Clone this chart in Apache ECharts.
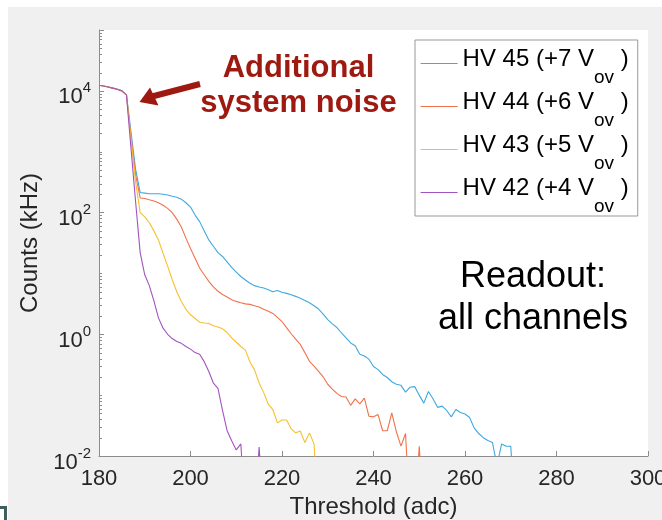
<!DOCTYPE html>
<html><head><meta charset="utf-8">
<script src="https://cdn.jsdelivr.net/npm/echarts@6/dist/echarts.min.js"></script>
<style>html,body{margin:0;padding:0;background:#fff}#c{width:662px;height:520px}</style>
</head><body><div id="c"></div>
<script>
// Threshold (adc) sample points
const thresholds = [180,181,182,183,184,185,186,187,188,189,190,191,192,193,194,195,196,197,198,199,
  200,201,202,203,204,205,206,207,208,209,210,211,212,213,214,215,216,217,218,219,
  220,221,222,223,224,225,226,227,228,229,230,231,232,233,234,235,236,237,238,239,
  240,241,242,243,244,245,246,247,248,249,250,251,252,253,254,255,256,257,258,259,
  260,261,262,263,264,265,266,267,268,269,270,271];

// Counts (kHz)
const hv45 = [12400,12000,11600,11100,10600,10000,8600,2090,513,214,209,204,204,204,200,195,186,178,166,145,
  123,91,71,50,35.5,28,22,19,15.5,12.6,10.5,8.9,7.8,6.9,6.3,6.0,5.75,5.4,5.0,5.25,
  4.9,4.7,4.45,4.2,3.9,3.6,3.3,2.95,2.6,2.15,1.74,1.48,1.29,1.05,0.87,0.72,0.65,0.47,0.44,0.39,
  0.295,0.263,0.219,0.195,0.166,0.151,0.145,0.112,0.135,0.138,0.100,0.074,0.115,0.087,0.063,0.066,0.056,0.044,0.058,0.052,
  0.049,0.043,0.029,0.0234,0.020,0.018,0.0166,0.007,0.0158,0.0145,0.0145,0.001];
const hv44 = [12400,12000,11600,11100,10600,10000,8600,1780,417,174,170,162,155,145,132,117,100,78,58,38,
  25.7,17.8,12.3,9.5,7.4,6.0,5.1,4.5,4.1,3.7,3.47,3.3,3.16,3.1,2.95,2.8,2.57,2.4,2.2,1.9,
  1.62,1.29,1.02,0.83,0.68,0.50,0.36,0.30,0.245,0.20,0.151,0.126,0.107,0.095,0.093,0.068,0.087,0.072,0.089,0.045,
  0.044,0.048,0.026,0.026,0.051,0.025,0.0145,0.0234,0.001,0.001,0.0145,0.001];
const hv43 = [12400,12000,11600,11100,10600,10000,8600,1580,316,100,85,68,50,35.5,21.4,13.2,7.9,5.0,3.47,2.57,
  2.09,1.82,1.58,1.53,1.51,1.38,1.32,1.23,1.07,0.87,0.74,0.63,0.55,0.35,0.26,0.158,0.11,0.071,0.058,0.035,
  0.039,0.039,0.028,0.024,0.0257,0.0166,0.024,0.0158,0.001];
const hv42 = [12400,12000,11600,11100,10600,10000,8600,1120,151,22,9.5,6.3,3.55,1.86,1.26,1.0,0.85,0.76,0.71,0.63,
  0.57,0.50,0.47,0.355,0.245,0.158,0.129,0.056,0.026,0.0178,0.0126,0.0158,0.001,0.001,0.001,0.0141,0.001];

const seriesNames = ['HV 45 (+7 V_ov )','HV 44 (+6 V_ov )','HV 43 (+5 V_ov )','HV 42 (+4 V_ov )'];
const seriesValues = [hv45, hv44, hv43, hv42];
const seriesColors = ['#3FA9E0','#F2724C','#F5BF2E','#A353BE'];

const xTicks = [180,200,220,240,260,280,300];
const yLabelExponents = [-2,0,2,4];

const FONT = 'Liberation Sans, Arial, Helvetica, sans-serif';
const AXIS_COLOR = '#8c8c8c';

// minor tick positions on the log axis (2..9 x 10^n and odd decades)
const minorTicks = [];
for (let n = -2; n <= 4; n++) {
  for (let m = 2; m <= 9; m++) minorTicks.push([180, m * Math.pow(10, n)]);
  if (n % 2 !== 0) minorTicks.push([180, Math.pow(10, n)]);
}

const chart = echarts.init(document.getElementById('c'), null, {renderer: 'canvas'});

const lineSeries = seriesNames.map((name, k) => ({
  name: name,
  type: 'line',
  data: seriesValues[k].map((v, i) => [thresholds[i], v]),
  symbol: 'none',
  showSymbol: false,
  clip: true,
  animation: false,
  color: seriesColors[k],
  lineStyle: {color: seriesColors[k], width: 1.1},
  itemStyle: {color: seriesColors[k]},
  z: 3
}));

const option = {
  animation: false,
  backgroundColor: '#ffffff',
  color: seriesColors,
  textStyle: {fontFamily: FONT},
  graphic: [
    {type: 'rect', z: -10, silent: true, shape: {x: 8, y: 7, width: 660, height: 520}, style: {fill: '#f0f0f0'}},
    {type: 'rect', z: -10, silent: true, shape: {x: 0, y: 506, width: 7, height: 3}, style: {fill: '#3f5f5f'}},
    {type: 'rect', z: -10, silent: true, shape: {x: 4, y: 506, width: 3, height: 14}, style: {fill: '#3f5f5f'}},
    // annotation arrow
    {type: 'line', z: 50, silent: true, shape: {x1: 200, y1: 84, x2: 152, y2: 96.5}, style: {stroke: '#9E1A10', lineWidth: 6}},
    {type: 'polygon', z: 50, silent: true, shape: {points: [[139.5, 102], [150, 87.5], [158.5, 105.5]]}, style: {fill: '#9E1A10'}},
    {type: 'text', z: 50, silent: true, style: {x: 298.5, y: 86, text: 'Additional\nsystem noise', font: 'bold 31px ' + FONT,
      fill: '#9E1A10', align: 'center', verticalAlign: 'middle', lineHeight: 35}},
    {type: 'text', z: 50, silent: true, style: {x: 533, y: 298, text: 'Readout:\nall channels', font: '36px ' + FONT,
      fill: '#000000', align: 'center', verticalAlign: 'middle', lineHeight: 41.7}}
  ],
  grid: {left: 99, right: 14, top: 30, bottom: 64, show: true, backgroundColor: '#ffffff', borderWidth: 0,
    containLabel: false, outerBoundsMode: 'none'},
  legend: {
    orient: 'vertical', left: 415, top: 40, selectedMode: false,
    data: seriesNames.map((n, k) => ({
      name: n,
      itemStyle: {opacity: 0},
      lineStyle: {color: seriesColors[k], width: 1.2, opacity: 1}
    })),
    itemWidth: 37, itemHeight: 12, itemGap: -4,
    padding: [0, 9, 0, 5],
    backgroundColor: '#ffffff', borderColor: '#999999', borderWidth: 1, borderRadius: 0,
    formatter: function (name) {
      const parts = name.split('_ov');
      return '{m|' + parts[0] + '}{s|ov}{m|' + parts[1] + '}';
    },
    textStyle: {
      color: '#000',
      rich: {
        m: {fontSize: 24, fontFamily: FONT, color: '#000', padding: [0, 0, 9, 0]},
        s: {fontSize: 19, fontFamily: FONT, color: '#000', padding: [28, 0, 0, 0], lineHeight: 33}
      }
    }
  },
  xAxis: {
    type: 'value', min: 180, max: 300, interval: 20,
    name: 'Threshold (adc)', nameLocation: 'middle', nameGap: 38,
    nameTextStyle: {fontSize: 24, color: '#262626', fontFamily: FONT},
    axisLine: {show: true, lineStyle: {color: AXIS_COLOR, width: 1}},
    axisTick: {show: true, inside: true, length: 5, lineStyle: {color: AXIS_COLOR}},
    splitLine: {show: false},
    axisLabel: {fontSize: 22, color: '#262626', fontFamily: FONT, margin: 12,
      formatter: v => (xTicks.indexOf(Math.round(v)) >= 0 ? String(Math.round(v)) : '')}
  },
  yAxis: {
    type: 'log', logBase: 10, min: 0.01, max: 100000, interval: 2,
    name: 'Counts (kHz)', nameLocation: 'middle', nameGap: 56,
    nameTextStyle: {fontSize: 24, color: '#262626', fontFamily: FONT},
    axisLine: {show: true, lineStyle: {color: AXIS_COLOR, width: 1}},
    axisTick: {show: true, inside: true, length: 5, lineStyle: {color: AXIS_COLOR}},
    splitLine: {show: false},
    minorTick: {show: false},
    axisLabel: {
      margin: 8, color: '#262626', fontFamily: FONT,
      formatter: function (v) {
        const n = Math.round(Math.log10(v));
        if (yLabelExponents.indexOf(n) < 0) return '';
        return '{b|10}{s|' + n + '}';
      },
      rich: {
        b: {fontSize: 22, color: '#262626', fontFamily: FONT, padding: [13, 0, 0, 0], lineHeight: 22},
        s: {fontSize: 15, color: '#262626', fontFamily: FONT, padding: [0, 0, 5, 0], lineHeight: 22}
      }
    }
  },
  series: lineSeries.concat([{
    name: 'minor ticks', type: 'custom', silent: true, z: 4, clip: false,
    data: minorTicks,
    renderItem: function (params, api) {
      const p = api.coord([api.value(0), api.value(1)]);
      const y = Math.round(p[1]) + 0.5;
      return {type: 'line', shape: {x1: p[0], y1: y, x2: p[0] + 3, y2: y},
        style: {stroke: AXIS_COLOR, lineWidth: 1}};
    }
  }])
};
chart.setOption(option);
</script></body></html>
